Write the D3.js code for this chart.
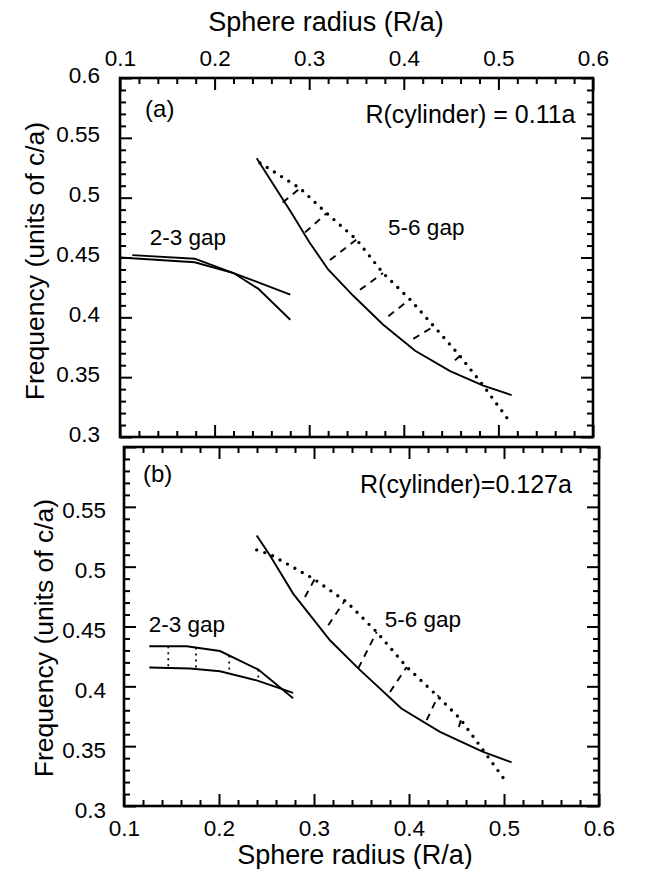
<!DOCTYPE html>
<html><head><meta charset="utf-8">
<script src="https://cdn.jsdelivr.net/npm/d3@7/dist/d3.min.js"></script>
<style>
body{margin:0;background:#fff;}
text{font-family:"Liberation Sans",Arial,Helvetica,sans-serif;fill:#000;}
</style></head>
<body><svg id="c" width="652" height="869"></svg>
<script>
// ---- data ----
const xTicks = [0.1,0.2,0.3,0.4,0.5,0.6];
const yTicksA = [0.3,0.35,0.4,0.45,0.5,0.55,0.6];
const yTicksB = [0.3,0.35,0.4,0.45,0.5,0.55];

// Panel (a) R(cylinder)=0.11a
const a23upper = [[0.113,0.452],[0.179,0.449],[0.220,0.437],[0.246,0.424],[0.280,0.398]];
const a23lower = [[0.100,0.450],[0.179,0.446],[0.220,0.437],[0.280,0.419]];
const a56solid = [[0.2445,0.533],[0.2815,0.487],[0.300,0.463],[0.320,0.440],[0.3466,0.418],[0.378,0.394],[0.412,0.372],[0.449,0.355],[0.484,0.343],[0.514,0.335]];
const a56dotted = [[0.248,0.529],[0.290,0.508],[0.3185,0.487],[0.350,0.465],[0.378,0.437],[0.4065,0.415],[0.438,0.387],[0.459,0.368],[0.484,0.343],[0.509,0.316]];
const a56links = [
  [[0.272,0.496],[0.292,0.509]],
  [[0.2956,0.471],[0.3185,0.487]],
  [[0.322,0.448],[0.350,0.465]],
  [[0.3537,0.423],[0.378,0.437]],
  [[0.3837,0.401],[0.4065,0.415]],
  [[0.410,0.382],[0.431,0.392]],
  [[0.454,0.364],[0.461,0.369]]
];

// Panel (b) R(cylinder)=0.127a
const b23upper = [[0.1266,0.4335],[0.166,0.4335],[0.201,0.4295],[0.2414,0.414],[0.278,0.390]];
const b23lower = [[0.1266,0.4157],[0.1695,0.4149],[0.201,0.4126],[0.2397,0.405],[0.278,0.3945]];
const b23links = [0.1466,0.1758,0.2108,0.2414];
const b56solid = [[0.2397,0.526],[0.2537,0.5094],[0.278,0.4775],[0.3168,0.4385],[0.3466,0.415],[0.392,0.3815],[0.4326,0.362],[0.478,0.3453],[0.508,0.3364]];
const b56dotted = [[0.2397,0.514],[0.2537,0.5103],[0.2993,0.490],[0.3344,0.4705],[0.366,0.4454],[0.3976,0.4162],[0.429,0.3926],[0.4537,0.373],[0.478,0.3467],[0.503,0.3194]];
const b56links = [
  [[0.2905,0.4746],[0.301,0.490]],
  [[0.315,0.451],[0.3326,0.4719]],
  [[0.3466,0.415],[0.366,0.4454]],
  [[0.380,0.3953],[0.3976,0.4162]],
  [[0.4186,0.3717],[0.431,0.3926]],
  [[0.4525,0.366],[0.455,0.373]]
];

const svg = d3.select("#c");

function panel(o){
  const x = d3.scaleLinear([0.1,0.6],[o.left,o.right]);
  const y = d3.scaleLinear([0.3,0.6],[o.bottom,o.top]);
  const g = svg.append("g");
  const minorX = d3.range(0.1,0.6001,0.02).filter(v=>Math.abs(v*10-Math.round(v*10))>1e-6);
  const minorY = d3.range(0.3,0.6001,0.01).filter(v=>Math.abs(v*20-Math.round(v*20))>1e-6);
  const styleAxis = sel=>{sel.select(".domain").remove();sel.selectAll("line").attr("stroke","#000").attr("stroke-width",2);};
  [[d3.axisTop, o.top],[d3.axisBottom, o.bottom]].forEach(([fn,yy])=>{
    g.append("g").attr("transform",`translate(0,${yy})`).call(fn(x).tickValues(xTicks).tickSize(-12).tickFormat("")).call(styleAxis);
    g.append("g").attr("transform",`translate(0,${yy})`).call(fn(x).tickValues(minorX).tickSize(-6).tickFormat("")).call(styleAxis);
  });
  [[d3.axisLeft, o.left],[d3.axisRight, o.right]].forEach(([fn,xx])=>{
    g.append("g").attr("transform",`translate(${xx},0)`).call(fn(y).tickValues(yTicksA).tickSize(-12).tickFormat("")).call(styleAxis);
    g.append("g").attr("transform",`translate(${xx},0)`).call(fn(y).tickValues(minorY).tickSize(-6).tickFormat("")).call(styleAxis);
  });
  g.append("rect").attr("x",o.left).attr("y",o.top).attr("width",o.right-o.left).attr("height",o.bottom-o.top)
    .attr("fill","none").attr("stroke","#000").attr("stroke-width",2.6);
  const yl = g.append("g").attr("transform",`translate(${o.left},0)`)
    .call(d3.axisLeft(y).tickValues(o.yTicks).tickSize(0).tickPadding(o.yPad).tickFormat(d=>String(+d.toFixed(2))));
  yl.select(".domain").remove();
  yl.selectAll("text").attr("font-size",22.5).attr("dy",(o.yShift)+"px").attr("font-family","Liberation Sans, Arial, sans-serif");
  if(o.xLabels){
    const fn = o.xLabels==="top"?d3.axisTop:d3.axisBottom;
    const yy = o.xLabels==="top"?o.top:o.bottom;
    const xl = g.append("g").attr("transform",`translate(0,${yy})`)
      .call(fn(x).tickValues(xTicks).tickSize(0).tickPadding(o.xPad).tickFormat(d=>String(+d.toFixed(1))));
    xl.select(".domain").remove();
    xl.selectAll("text").attr("font-size",22.5).attr("font-family","Liberation Sans, Arial, sans-serif");
  }
  const line = d3.line().x(d=>x(d[0])).y(d=>y(d[1]));
  o.solids.forEach(d=>g.append("path").attr("d",line(d)).attr("fill","none").attr("stroke","#000").attr("stroke-width",1.9));
  o.dotted.forEach(d=>g.append("path").attr("d",line(d)).attr("fill","none").attr("stroke","#000")
      .attr("stroke-width",3.4).attr("stroke-linecap","round").attr("stroke-dasharray","0,8.5"));
  o.links.forEach(d=>g.append("path").attr("d",line(d)).attr("fill","none").attr("stroke","#000")
      .attr("stroke-width",1.9).attr("stroke-dasharray","7,6"));
  (o.vlinks||[]).forEach(v=>{
    const yu = d3.scaleLinear(b23upper.map(p=>p[0]),b23upper.map(p=>p[1]))(v);
    const yl2 = d3.scaleLinear(b23lower.map(p=>p[0]),b23lower.map(p=>p[1]))(v);
    g.append("path").attr("d",line([[v,yu],[v,yl2]])).attr("fill","none").attr("stroke","#000")
      .attr("stroke-width",1.7).attr("stroke-dasharray","2,4");
  });
  o.texts.forEach(t=>g.append("text").attr("x",x(t.x)).attr("y",y(t.y)).attr("font-size",t.size)
      .attr("text-anchor",t.anchor||"start").text(t.s));
  g.append("text").attr("transform",`translate(${o.ytx},${o.ytc}) rotate(-90)`)
    .attr("text-anchor","middle").attr("font-size",26.5).text("Frequency (units of c/a)");
  return {x,y};
}

panel({left:120,right:593,top:78,bottom:437,yTicks:yTicksA,yPad:20,yShift:4,xLabels:"top",xPad:12,ytx:44,ytc:261,
  solids:[a23upper,a23lower,a56solid],dotted:[a56dotted],links:a56links,
  texts:[{x:0.1265,y:0.5675,s:"(a)",size:24},{x:0.5815,y:0.5625,s:"R(cylinder) = 0.11a",size:25,anchor:"end"},
         {x:0.1315,y:0.4605,s:"2-3 gap",size:22.5},{x:0.3834,y:0.4688,s:"5-6 gap",size:22.5}]});

panel({left:124,right:599,top:447,bottom:806,yTicks:yTicksB,yPad:18,yShift:11,xLabels:"bottom",xPad:14,ytx:53,ytc:638,
  solids:[b23upper,b23lower,b56solid],dotted:[b56dotted],links:b56links,vlinks:b23links,
  texts:[{x:0.120,y:0.571,s:"(b)",size:24},{x:0.5715,y:0.5616,s:"R(cylinder)=0.127a",size:25,anchor:"end"},
         {x:0.126,y:0.4451,s:"2-3 gap",size:22.5},{x:0.3745,y:0.4493,s:"5-6 gap",size:22.5}]});

svg.append("text").attr("x",326).attr("y",31).attr("text-anchor","middle").attr("font-size",27).text("Sphere radius (R/a)");
svg.append("text").attr("x",355).attr("y",864).attr("text-anchor","middle").attr("font-size",27).text("Sphere radius (R/a)");
</script></body></html>
